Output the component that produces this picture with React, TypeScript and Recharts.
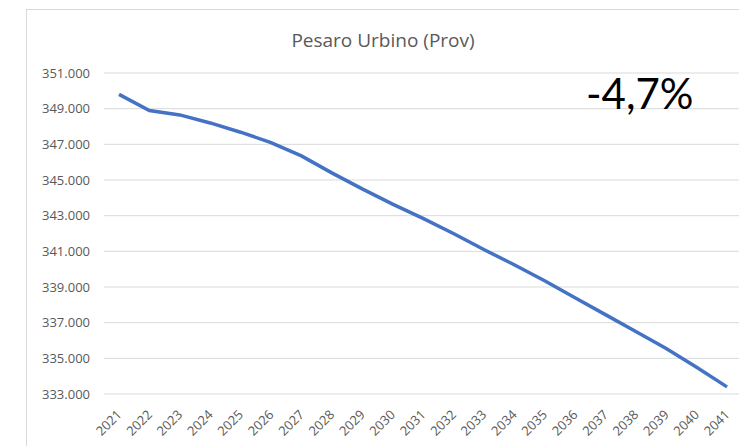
import React from "react";
import { LineChart, Line, XAxis, YAxis, CartesianGrid } from "recharts";

const years: string[] = [
  "2021", "2022", "2023", "2024", "2025", "2026", "2027", "2028", "2029", "2030",
  "2031", "2032", "2033", "2034", "2035", "2036", "2037", "2038", "2039", "2040", "2041",
];
const population: number[] = [
  349800, 348900, 348650, 348200, 347680, 347100, 346350, 345400, 344500, 343650,
  342850, 342000, 341100, 340250, 339350, 338400, 337450, 336500, 335550, 334500, 333400,
];
const yTicks: number[] = [333000, 335000, 337000, 339000, 341000, 343000, 345000, 347000, 349000, 351000];
const title = "Pesaro Urbino (Prov)";
const changeLabel = "-4,7%";

const data = years.map((y, i) => ({ year: y, value: population[i] }));

const fmt = (v: number) => {
  const th = Math.floor(v / 1000);
  const rest = String(v % 1000).padStart(3, "0");
  return `${th}.${rest}`;
};

const FONT = "'Open Sans', 'Noto Sans', sans-serif";

const XTick = (props: any) => {
  const { x, y, payload } = props;
  return (
    <g transform={`translate(${x - 3},${y + 7})`}>
      <text
        x={0}
        y={0}
        dy="0.71em"
        textAnchor="end"
        transform="rotate(-45)"
        fill="#595959"
        fontSize={13}
        fontFamily={FONT}
      >
        {payload.value}
      </text>
    </g>
  );
};

export default function App() {
  return (
    <div
      style={{
        position: "fixed",
        left: 0,
        top: 0,
        width: 739,
        height: 446,
        overflow: "hidden",
        background: "#fff",
      }}
    >
      <div
        style={{
          position: "absolute",
          left: 26,
          top: 9,
          width: 800,
          height: 500,
          border: "1px solid #d9d9d9",
          boxSizing: "border-box",
        }}
      />
      <div style={{ position: "absolute", left: 0, top: 0 }}>
        <LineChart
          width={760}
          height={446}
          data={data}
          margin={{ top: 73, right: 18, bottom: 0, left: 44 }}
        >
          <CartesianGrid vertical={false} stroke="#d9d9d9" strokeWidth={1} />
          <XAxis
            dataKey="year"
            interval={0}
            height={52}
            axisLine={false}
            tickLine={false}
            padding={{ left: 15, right: 15 }}
            tick={<XTick />}
          />
          <YAxis
            width={60}
            domain={[333000, 351000]}
            ticks={yTicks}
            interval={0}
            axisLine={false}
            tickLine={false}
            tickMargin={8}
            tickFormatter={fmt}
            tick={{ fill: "#595959", fontSize: 13, fontFamily: FONT }}
          />
          <Line
            type="linear"
            dataKey="value"
            stroke="#4472C4"
            strokeWidth={3.5}
            dot={false}
            isAnimationActive={false}
          />
        </LineChart>
      </div>
      <svg
        width={739}
        height={446}
        style={{ position: "absolute", left: 0, top: 0, pointerEvents: "none" }}
      >
        <text x={383} y={47} textAnchor="middle" fill="#595959" fontSize={19} fontFamily={FONT}>
          {title}
        </text>
        <text x={586} y={109} textAnchor="start" fill="#000" fontSize={42} fontFamily="Lato, 'Open Sans', sans-serif">
          {changeLabel}
        </text>
      </svg>
    </div>
  );
}
